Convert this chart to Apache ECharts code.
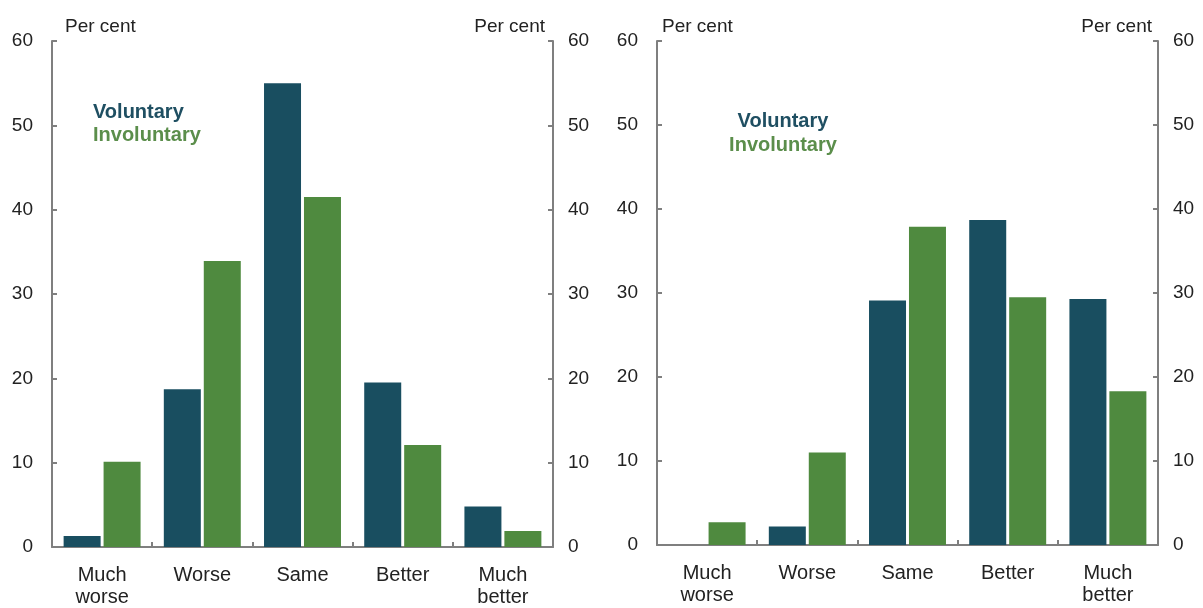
<!DOCTYPE html>
<html>
<head>
<meta charset="utf-8">
<script src="https://cdn.jsdelivr.net/npm/echarts@6/dist/echarts.min.js"></script>
<style>
  html, body { margin: 0; padding: 0; background: #ffffff; }
  #chart { width: 1203px; height: 608px; }
</style>
</head>
<body>
<div id="chart"></div>
<script>
// Categories shared by both panels
const categories = ['Much\nworse', 'Worse', 'Same', 'Better', 'Much\nbetter'];

// Left panel (per cent of respondents)
const leftVoluntary   = [1.3, 18.7, 55.0, 19.5, 4.8];
const leftInvoluntary = [10.1, 33.9, 41.5, 12.1, 1.9];

// Right panel (per cent of respondents)
const rightVoluntary   = [0, 2.2, 29.1, 38.7, 29.3];
const rightInvoluntary = [2.7, 11.0, 37.9, 29.5, 18.3];

// Value axis ticks
const yMin = 0, yMax = 60, yStep = 10;
const unitLabel = 'Per cent';

const colVol = '#194e60';
const colInv = '#4f8a3f';
const axisGrey = '#7f7f7f';
const textCol = '#222222';
const fontFam = '"Liberation Sans", Arial, sans-serif';

function valueAxis(gridIndex, side, nameCfg) {
  return {
    type: 'value',
    gridIndex: gridIndex,
    position: side,
    min: yMin, max: yMax, interval: yStep,
    name: unitLabel,
    nameLocation: 'end',
    nameGap: 5,
    nameTextStyle: Object.assign({
      color: textCol, fontFamily: fontFam, fontSize: 19
    }, nameCfg),
    axisLine: { show: true, lineStyle: { color: axisGrey, width: 2 } },
    axisTick: { show: true, inside: true, length: 5, lineStyle: { color: axisGrey, width: 2 } },
    axisLabel: { color: textCol, fontFamily: fontFam, fontSize: 19, margin: side === 'left' ? 19 : 15 },
    splitLine: { show: false }
  };
}

function catAxis(gridIndex) {
  return {
    type: 'category',
    gridIndex: gridIndex,
    data: categories,
    axisLine: { show: true, onZero: false, lineStyle: { color: axisGrey, width: 2 } },
    axisTick: { show: true, inside: true, length: 5, lineStyle: { color: axisGrey, width: 2 } },
    axisLabel: {
      color: textCol, fontFamily: fontFam, fontSize: 20, lineHeight: 22, margin: 17,
      interval: 0
    },
    splitLine: { show: false }
  };
}

function bars(name, data, color, xi, yi) {
  return {
    name: name,
    type: 'bar',
    xAxisIndex: xi,
    yAxisIndex: yi,
    data: data,
    barWidth: 37,
    barGap: '8%',
    itemStyle: { color: color },
    emphasis: { disabled: true }
  };
}

function legendText(text, x, y, color, align) {
  return {
    type: 'text',
    x: x, y: y,
    style: {
      text: text,
      fill: color,
      font: 'bold 20px ' + fontFam,
      textAlign: align,
      textVerticalAlign: 'middle'
    }
  };
}

const chart = echarts.init(document.getElementById('chart'), null, { renderer: 'canvas' });

chart.setOption({
  backgroundColor: '#ffffff',
  animation: false,
  grid: [
    { left: 52, top: 41, width: 501, height: 506 },
    { left: 657, top: 41, width: 501, height: 504 }
  ],
  xAxis: [catAxis(0), catAxis(1)],
  yAxis: [
    valueAxis(0, 'left',  { align: 'left',  padding: [0, 0, 0, 13] }),
    valueAxis(0, 'right', { align: 'right', padding: [0, 8, 0, 0] }),
    valueAxis(1, 'left',  { align: 'left',  padding: [0, 0, 0, 5] }),
    valueAxis(1, 'right', { align: 'right', padding: [0, 6, 0, 0] })
  ],
  series: [
    bars('Voluntary',   leftVoluntary,    colVol, 0, 0),
    bars('Involuntary', leftInvoluntary,  colInv, 0, 0),
    bars('Voluntary',   rightVoluntary,   colVol, 1, 2),
    bars('Involuntary', rightInvoluntary, colInv, 1, 2)
  ],
  graphic: [
    legendText('Voluntary',   93, 112, '#1f4f62', 'left'),
    legendText('Involuntary', 93, 135, '#5b8e4b', 'left'),
    legendText('Voluntary',   783, 121, '#1f4f62', 'center'),
    legendText('Involuntary', 783, 145, '#5b8e4b', 'center')
  ]
});
</script>
</body>
</html>
